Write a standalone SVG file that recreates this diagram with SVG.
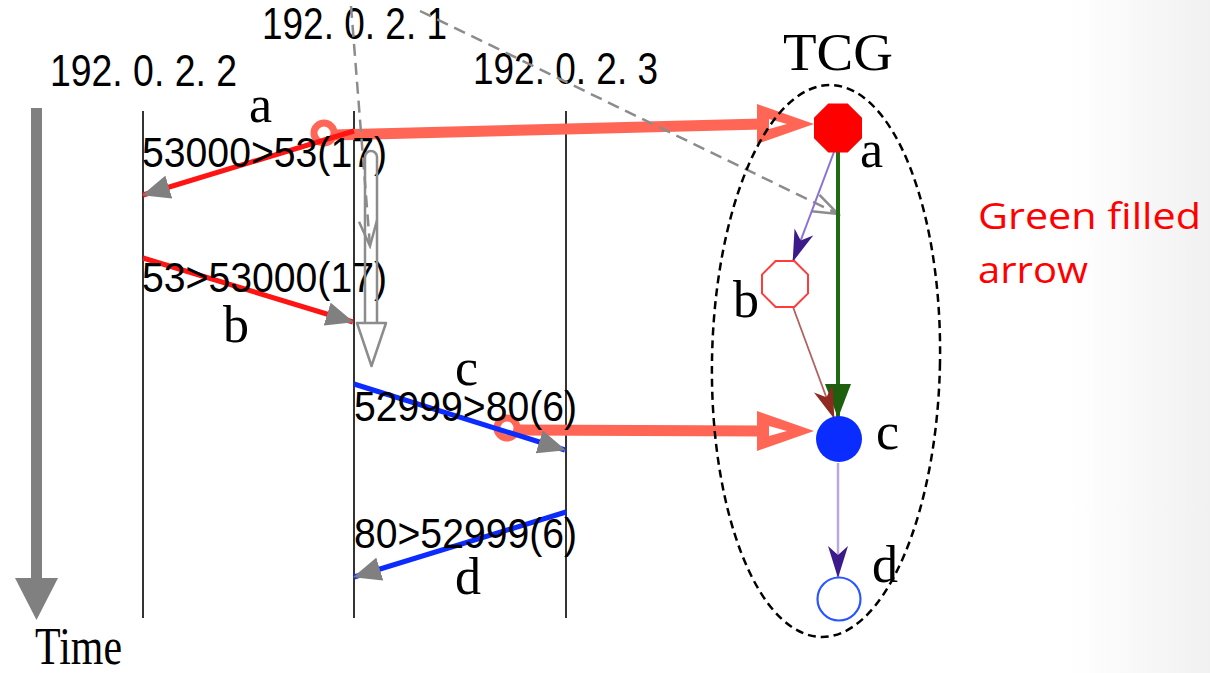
<svg xmlns="http://www.w3.org/2000/svg" width="1210" height="673" viewBox="0 0 1210 673">
  <defs>
    <linearGradient id="edge" x1="0" y1="0" x2="1" y2="0">
      <stop offset="0" stop-color="#ffffff"/>
      <stop offset="1" stop-color="#f1f1f1"/>
    </linearGradient>
    <marker id="grayTri" markerUnits="userSpaceOnUse" markerWidth="28" markerHeight="24" viewBox="0 0 28 24" refX="27" refY="12" orient="auto">
      <path d="M0,0 L28,12 L0,24 z" fill="#808080"/>
    </marker>
    <marker id="greenTri" markerUnits="userSpaceOnUse" markerWidth="34" markerHeight="26" viewBox="0 0 34 26" refX="33" refY="13" orient="auto">
      <path d="M0,0 L34,13 L0,26 z" fill="#1d5f0c"/>
    </marker>
    <marker id="veePurple" markerUnits="userSpaceOnUse" markerWidth="32" markerHeight="20" viewBox="0 0 32 20" refX="31" refY="10" orient="auto">
      <path d="M0,0 L32,10 L0,20 L9,10 z" fill="#3b1a8a"/>
    </marker>
    <marker id="veeBrown" markerUnits="userSpaceOnUse" markerWidth="32" markerHeight="20" viewBox="0 0 32 20" refX="31" refY="10" orient="auto">
      <path d="M0,0 L32,10 L0,20 L9,10 z" fill="#8e2a22"/>
    </marker>
    <marker id="openGray" markerUnits="userSpaceOnUse" markerWidth="30" markerHeight="22" viewBox="0 0 30 22" refX="27" refY="11" orient="auto">
      <path d="M2,2 L27,11 L2,20" fill="none" stroke="#8c8c8c" stroke-width="2.5"/>
    </marker>
    <style>
      .life { stroke: #000; stroke-width: 1.6; }
      .ip { font-family: "Liberation Sans", Arial, sans-serif; font-size: 44px; fill: #000; }
      .msg { font-family: "Liberation Sans", Arial, sans-serif; font-size: 42px; fill: #000; }
      .let { font-family: "Liberation Serif", "Times New Roman", serif; font-size: 52px; fill: #000; }
      .red { stroke: #ff1414; stroke-width: 5; fill: none; }
      .blue { stroke: #0b2bff; stroke-width: 5; fill: none; }
      .salmon { stroke: #ff6655; stroke-width: 11; fill: none; }
      .ring { stroke: #ff6655; stroke-width: 7; fill: none; }
      .dash { stroke: #8c8c8c; stroke-width: 2.5; stroke-dasharray: 12 7; fill: none; }
      .note { font-family: "Open Sans", "Noto Sans", sans-serif; font-size: 37px; fill: #ff0000; }
    </style>
  </defs>

  <rect x="0" y="0" width="1210" height="673" fill="#ffffff"/>
  <rect x="1070" y="0" width="140" height="673" fill="url(#edge)"/>

  <!-- Time axis -->
  <g id="time-axis">
    <line x1="36.5" y1="108" x2="36.5" y2="585" stroke="#808080" stroke-width="11"/>
    <path d="M15,578 L58,578 L36.5,620 z" fill="#808080"/>
    <text class="let" x="35" y="664" font-size="41" textLength="87" lengthAdjust="spacingAndGlyphs">Time</text>
  </g>

  <!-- Hosts / lifelines -->
  <g id="host-192-0-2-2">
    <line class="life" x1="143" y1="111" x2="143" y2="618"/>
    <text class="ip" x="50" y="86" textLength="187" lengthAdjust="spacingAndGlyphs">192. 0. 2. 2</text>
  </g>
  <g id="host-192-0-2-1">
    <line class="life" x1="354" y1="111" x2="354" y2="618"/>
    <text class="ip" x="262" y="39" font-size="42" textLength="185" lengthAdjust="spacingAndGlyphs">192. 0. 2. 1</text>
  </g>
  <g id="host-192-0-2-3">
    <line class="life" x1="566" y1="111" x2="566" y2="618"/>
    <text class="ip" x="473" y="84" textLength="185" lengthAdjust="spacingAndGlyphs">192. 0. 2. 3</text>
  </g>

  <!-- Salmon mapping arrows (under labels) -->
  <g id="mapping-arrows">
    <circle class="ring" cx="324" cy="133" r="10"/>
    <line class="salmon" x1="333" y1="135" x2="762" y2="124"/>
    <path d="M757,104 L757,144 L814,124 z M769,119 L769,129 L787,124 z" fill="#ff6655" fill-rule="evenodd"/>
    <circle class="ring" cx="507" cy="428" r="10"/>
    <line class="salmon" x1="516" y1="430" x2="762" y2="431"/>
    <path d="M757,411 L757,451 L814,431 z M769,426 L769,436 L787,431 z" fill="#ff6655" fill-rule="evenodd"/>
  </g>

  <!-- Message connectors -->
  <g id="messages">
    <line class="red" x1="354" y1="131" x2="143" y2="195" marker-end="url(#grayTri)"/>
    <line class="red" x1="143" y1="258" x2="353" y2="322" marker-end="url(#grayTri)"/>
    <line class="blue" x1="354" y1="384" x2="565" y2="450" marker-end="url(#grayTri)"/>
    <line class="blue" x1="566" y1="512" x2="354" y2="577" marker-end="url(#grayTri)"/>
  </g>

  <!-- Message labels -->
  <g id="msg-a">
    <text class="msg" x="142" y="167" textLength="245" lengthAdjust="spacingAndGlyphs">53000&gt;53(17)</text>
    <text class="let" x="249" y="122">a</text>
  </g>
  <g id="msg-b">
    <text class="msg" x="142" y="292" textLength="245" lengthAdjust="spacingAndGlyphs">53&gt;53000(17)</text>
    <text class="let" x="223" y="342">b</text>
  </g>
  <g id="msg-c">
    <text class="msg" x="354" y="421" textLength="223" lengthAdjust="spacingAndGlyphs">52999&gt;80(6)</text>
    <text class="let" x="455" y="385">c</text>
  </g>
  <g id="msg-d">
    <text class="msg" x="354" y="548" textLength="223" lengthAdjust="spacingAndGlyphs">80&gt;52999(6)</text>
    <text class="let" x="455" y="594">d</text>
  </g>

  <!-- Gray hollow arrow and dashed pointers -->
  <g id="pointers">
    <rect x="365" y="151" width="12" height="183" rx="6" fill="none" stroke="#8c8c8c" stroke-width="2.5"/>
    <path d="M357,323 L386,323 L371.5,366 z" fill="#ffffff" stroke="#8c8c8c" stroke-width="2.5" stroke-linejoin="round"/>
    <line class="dash" x1="351" y1="6" x2="370" y2="246" marker-end="url(#openGray)"/>
    <line class="dash" x1="420" y1="11" x2="838" y2="214" marker-end="url(#openGray)"/>
  </g>

  <!-- TCG -->
  <g id="tcg-frame">
    <ellipse cx="826" cy="361" rx="114" ry="276" transform="rotate(1 826 361)" fill="none" stroke="#000" stroke-width="2.5" stroke-dasharray="8 5"/>
    <text class="let" x="838" y="70" text-anchor="middle" font-size="54" textLength="110" lengthAdjust="spacingAndGlyphs">TCG</text>
  </g>

  <g id="tcg-edges">
    <line x1="838" y1="152" x2="838" y2="417" stroke="#1f6b12" stroke-width="4" marker-end="url(#greenTri)"/>
    <line x1="834" y1="152" x2="793" y2="261" stroke="#8b72d2" stroke-width="2" marker-end="url(#veePurple)"/>
    <line x1="793" y1="307" x2="834" y2="418" stroke="#b26060" stroke-width="1.8" marker-end="url(#veeBrown)"/>
    <line x1="838" y1="463" x2="838" y2="577" stroke="#b9a8da" stroke-width="2.5" marker-end="url(#veePurple)"/>
  </g>

  <g id="tcg-a">
    <polygon points="847.7,103.5 862,117.8 862,138.2 847.7,152.5 828.3,152.5 814,138.2 814,117.8 828.3,103.5" fill="#ff0000"/>
    <text class="let" x="860" y="167">a</text>
  </g>
  <g id="tcg-b">
    <polygon points="794.4,261 808,274.6 808,293.4 794.4,307 775.6,307 762,293.4 762,274.6 775.6,261" fill="#ffffff" stroke="#ff3b3b" stroke-width="2"/>
    <text class="let" x="733" y="317">b</text>
  </g>
  <g id="tcg-c">
    <circle cx="839" cy="439" r="23" fill="#0a2cff"/>
    <text class="let" x="876" y="449">c</text>
  </g>
  <g id="tcg-d">
    <circle cx="839" cy="599" r="21.5" fill="#ffffff" stroke="#2a55ff" stroke-width="2.2"/>
    <text class="let" x="872" y="582">d</text>
  </g>

  <g id="note">
    <text class="note" x="978" y="229" textLength="223" lengthAdjust="spacingAndGlyphs">Green filled</text>
    <text class="note" x="978" y="283" textLength="110" lengthAdjust="spacingAndGlyphs">arrow</text>
  </g>
</svg>
